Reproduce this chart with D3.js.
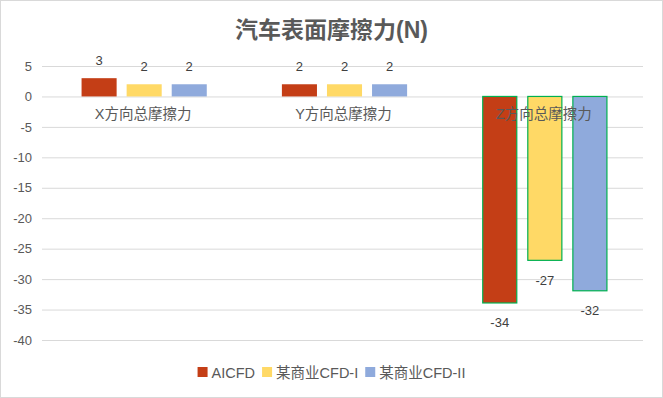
<!DOCTYPE html>
<html><head><meta charset="utf-8">
<script src="https://cdn.jsdelivr.net/npm/d3@7"></script>
<style>
html,body{margin:0;padding:0;background:#fff;}
text{font-family:"Liberation Sans","Noto Sans CJK SC",sans-serif;}
</style></head>
<body><svg id="c" width="663" height="398"></svg>
<script>
const title = "汽车表面摩擦力(N)";
const categories = ["X方向总摩擦力", "Y方向总摩擦力", "Z方向总摩擦力"];
const seriesNames = ["AICFD", "某商业CFD-I", "某商业CFD-II"];
const aicfd = [3, 2, -34];
const cfd1 = [2, 2, -27];
const cfd2 = [2, 2, -32];
const yTicks = [5, 0, -5, -10, -15, -20, -25, -30, -35, -40];
const colors = ["#C43E16", "#FFD966", "#8FAADC"];

const fmt = v => String(Math.round(v));
const seriesValues = [aicfd, cfd1, cfd2];
const svg = d3.select("#c");
const W = 663, H = 398;
const plotL = 42, plotR = 643;

svg.append("rect").attr("x",0.5).attr("y",0.5).attr("width",W-1).attr("height",H-1)
  .attr("fill","#fff").attr("stroke","#d9d9d9");

svg.append("text").attr("x",W/2).attr("y",38).attr("text-anchor","middle")
  .attr("font-size",23).attr("font-weight","bold").attr("fill","#595959").text(title);

const y = d3.scaleLinear().domain([-40, 5]).range([340, 66]);
const x0 = d3.scaleBand().domain(categories).range([plotL+2, plotR+2]).padding(0);
const x1 = d3.scaleBand().domain(seriesNames)
  .range([x0.bandwidth()*0.1875, x0.bandwidth()*0.8125]).paddingInner(0.222).paddingOuter(0);

// grid
const yAxis = d3.axisLeft(y).tickValues(yTicks).tickSize(-(plotR-plotL)).tickPadding(10).tickFormat(fmt);
const ga = svg.append("g").attr("transform",`translate(${plotL},0)`).call(yAxis);
ga.select(".domain").remove();
ga.selectAll(".tick line").attr("stroke","#d9d9d9");
ga.selectAll(".tick text").attr("fill","#595959").attr("font-size",13)
  .attr("font-family",'"Liberation Sans",sans-serif');

// bars
const groups = svg.append("g").selectAll("g").data(categories).join("g")
  .attr("transform", d => `translate(${x0(d)},0)`);
groups.each(function(cat, ci){
  const g = d3.select(this);
  seriesNames.forEach((s, si) => {
    const v = seriesValues[si][ci];
    const outlined = ci === 2;
    g.append("rect")
      .attr("x", x1(s) + (outlined?0.5:0))
      .attr("y", Math.min(y(v), y(0)))
      .attr("width", x1.bandwidth() - (outlined?1:0))
      .attr("height", Math.abs(y(v) - y(0)) - (outlined?0.5:0))
      .attr("fill", colors[si])
      .attr("stroke", outlined ? "#00B050" : "none")
      .attr("stroke-width", 1.2);
    g.append("text")
      .attr("x", x1(s) + x1.bandwidth()/2)
      .attr("y", v >= 0 ? y(v) - 13 : y(v) + 24)
      .attr("text-anchor","middle").attr("font-size",13).attr("fill","#404040")
      .text(fmt(v));
  });
});

// category labels
svg.append("g").selectAll("text").data(categories).join("text")
  .attr("x", d => x0(d) + x0.bandwidth()/2 - 1)
  .attr("y", y(0) + 23)
  .attr("text-anchor","middle").attr("font-size",14.5).attr("fill","#595959")
  .text(d => d);

// legend
const lg = svg.append("g");
let cx = 0;
seriesNames.forEach((s, i) => {
  const it = lg.append("g").attr("transform", `translate(${cx},0)`);
  it.append("rect").attr("x",0).attr("y",-5).attr("width",10).attr("height",10).attr("fill",colors[i]);
  const t = it.append("text").attr("x",14).attr("y",5.5).attr("font-size",14.5).attr("fill","#595959").text(s);
  cx += 14 + t.node().getComputedTextLength() + 7;
});
const lw = cx - 7;
lg.attr("transform", `translate(${W/2 - lw/2},372)`);
</script></body></html>
